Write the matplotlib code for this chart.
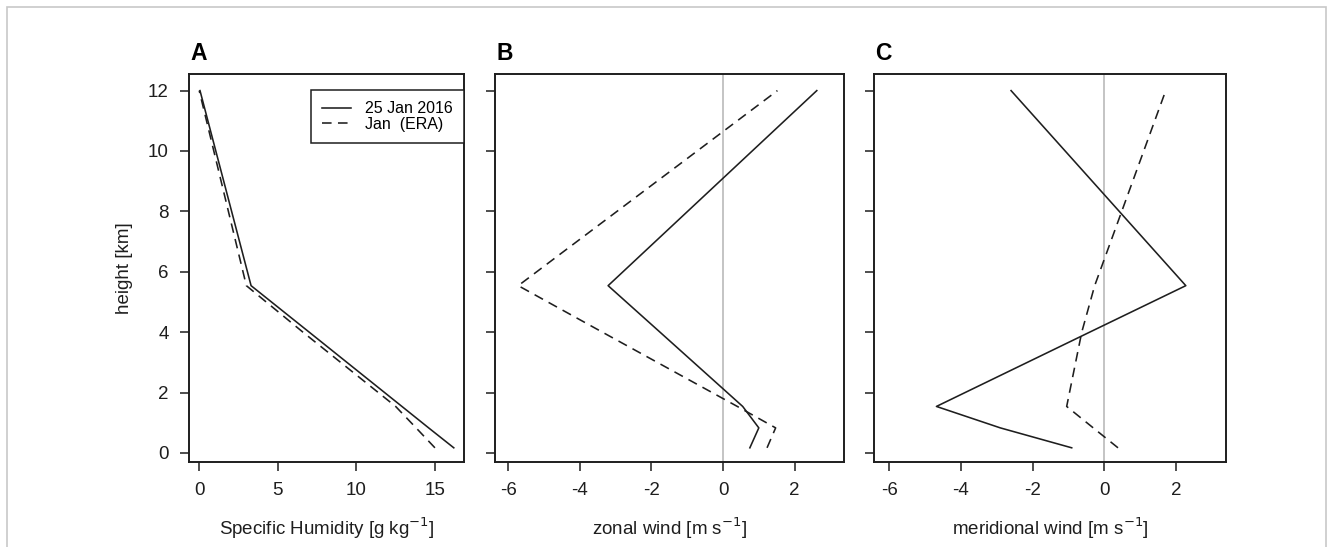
import matplotlib
matplotlib.use("Agg")
import matplotlib.pyplot as plt
from matplotlib.patches import Rectangle

plt.rcParams['font.family'] = ['Liberation Sans', 'DejaVu Sans']

# height levels [km]
heights = [0.17, 0.83, 1.54, 4.0, 5.54, 12.0]

# panel A: specific humidity [g/kg]
q_event = [16.2, 14.6, 12.9, 7.0, 3.3, 0.05]
q_clim = [15.0, 13.8, 12.5, 6.6, 3.0, 0.0]

# panel B: zonal wind [m/s]
u_event = [0.75, 1.0, 0.55, -1.76, -3.21, 2.62]
u_clim = [1.23, 1.47, 0.4, -3.37, -5.72, 1.52]

# panel C: meridional wind [m/s]
v_event = [-0.91, -2.9, -4.68, -0.41, 2.27, -2.6]
v_clim = [0.38, -0.31, -1.05, -0.63, -0.27, 1.71]

labels = ['25 Jan 2016', 'Jan  (ERA)']
xlabels = ['Specific Humidity [g kg$^{-1}$]',
           'zonal wind [m s$^{-1}$]',
           'meridional wind [m s$^{-1}$]']
letters = ['A', 'B', 'C']

W, H = 1332, 547
fig = plt.figure(figsize=(W / 100, H / 100), dpi=100)

# outer light frame
fig.patches.append(Rectangle((7 / W, -0.1), 1319 / W, 1.1 - 7 / H,
                             transform=fig.transFigure, fill=False,
                             edgecolor='#c8c8c8', lw=1.2))


def px_axes(x0, x1, y0, y1):
    return fig.add_axes([x0 / W, 1 - y1 / H, (x1 - x0) / W, (y1 - y0) / H])


ax_a = px_axes(189, 464, 74, 462)
ax_b = px_axes(495, 844, 74, 462)
ax_c = px_axes(874, 1226, 74, 462)
axes = [ax_a, ax_b, ax_c]

ink = '#1e1e1e'
dash = (6, 4)
ax_a.plot(q_event, heights, color=ink, lw=1.15, label=labels[0])
ax_a.plot(q_clim, heights, color=ink, lw=1.15, dashes=dash, label=labels[1])

for ax, ev, cl in [(ax_b, u_event, u_clim), (ax_c, v_event, v_clim)]:
    ax.axvline(0, color='#c4c4c4', lw=1.4, zorder=0)
    ax.plot(ev, heights, color=ink, lw=1.15)
    ax.plot(cl, heights, color=ink, lw=1.15, dashes=dash)

ax_a.set_xlim(-0.65, 16.85)
ax_a.set_xticks([0, 5, 10, 15])
ax_b.set_xlim(-6.37, 3.38)
ax_c.set_xlim(-6.42, 3.39)
for ax in (ax_b, ax_c):
    ax.set_xticks([-6, -4, -2, 0, 2])
    ax.set_xticklabels(['-6', '-4', '-2', '0', '2'])

for i, ax in enumerate(axes):
    ax.set_ylim(-0.3, 12.55)
    ax.set_yticks([0, 2, 4, 6, 8, 10, 12])
    for s in ax.spines.values():
        s.set_linewidth(1.4)
        s.set_color(ink)
    ax.tick_params(direction='out', length=6.5, width=1.1, color=ink,
                   labelsize=13.5, pad=8, labelcolor=ink)
    ax.set_xlabel(xlabels[i], fontsize=13.5, labelpad=12, color=ink)
    if i > 0:
        ax.tick_params(axis='y', labelleft=False)

ax_a.set_ylabel('height [km]', fontsize=13.5, labelpad=11, color=ink)

leg = ax_a.legend(loc='upper right', bbox_to_anchor=(1.0, 1 - 16 / 388),
                  borderaxespad=0, fancybox=False, framealpha=1,
                  edgecolor=ink, fontsize=11.5, handlelength=1.8,
                  handletextpad=0.9, labelspacing=0.05, borderpad=0.7)
leg.get_frame().set_linewidth(1.1)

for ax, lt in zip(axes, letters):
    x0 = ax.get_position().x0
    fig.text(x0 + 1 / W, 1 - 60 / H, lt, fontsize=16.5, fontweight='bold',
             ha='left', va='baseline')

fig.savefig('out.png', dpi=100)
